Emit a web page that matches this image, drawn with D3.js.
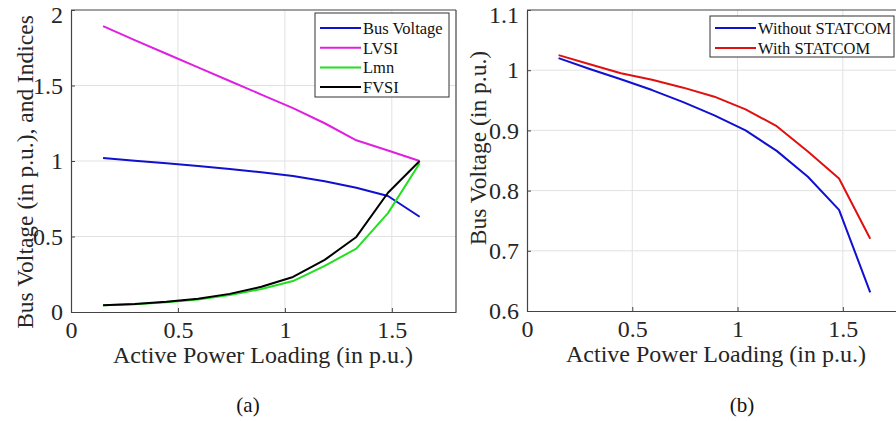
<!DOCTYPE html>
<html><head><meta charset="utf-8">
<script src="https://cdn.jsdelivr.net/npm/d3@7"></script>
<style>
body{margin:0;background:#fff;}
svg{display:block;font-family:"Liberation Serif","Times New Roman",serif;}
</style></head>
<body><svg id="c" width="896" height="421"></svg>
<script>
// ---- data ----
const loading = [0.15, 0.298, 0.446, 0.594, 0.742, 0.89, 1.038, 1.186, 1.334, 1.482, 1.63];
const busVoltage = [1.020, 1.002, 0.985, 0.967, 0.947, 0.925, 0.900, 0.866, 0.823, 0.768, 0.631];
const lvsi = [1.893, 1.80, 1.71, 1.62, 1.53, 1.44, 1.35, 1.25, 1.137, 1.07, 1.0];
const lmn  = [0.045, 0.052, 0.064, 0.083, 0.112, 0.152, 0.205, 0.305, 0.42, 0.655, 0.985];
const fvsi = [0.045, 0.053, 0.068, 0.088, 0.12, 0.167, 0.232, 0.345, 0.497, 0.79, 1.0];
const withoutStatcom = busVoltage;
const withStatcom = [1.025, 1.010, 0.995, 0.984, 0.971, 0.956, 0.935, 0.907, 0.865, 0.820, 0.720];
const xTicks = [0, 0.5, 1, 1.5];
const yTicksA = [0, 0.5, 1, 1.5, 2];
const yTicksB = [0.6, 0.7, 0.8, 0.9, 1, 1.1];
const seriesA = [
  {name:"Bus Voltage", values:busVoltage, color:"#1010d0"},
  {name:"LVSI", values:lvsi, color:"#e020e0"},
  {name:"Lmn", values:lmn, color:"#20e020"},
  {name:"FVSI", values:fvsi, color:"#000000"}
];
const seriesB = [
  {name:"Without STATCOM", values:withoutStatcom, color:"#1010d0"},
  {name:"With STATCOM", values:withStatcom, color:"#e01010"}
];

const svg = d3.select("#c");
const fmt = d => (d === 0 ? "0" : String(d));

function panel(o){
  const g = svg.append("g");
  const x = d3.scaleLinear().domain([0,1.8]).range([o.left, o.right]);
  const y = d3.scaleLinear().domain(o.ydom).range([o.bottom, o.top]);
  // grid
  g.selectAll(".gx").data(xTicks.filter(d=>d>0)).join("line")
    .attr("x1",d=>x(d)).attr("x2",d=>x(d)).attr("y1",o.top).attr("y2",o.bottom)
    .attr("stroke","#e2e2e2").attr("stroke-width",1);
  g.selectAll(".gy").data(o.yticks.slice(1,-1)).join("line")
    .attr("y1",d=>y(d)).attr("y2",d=>y(d)).attr("x1",o.left).attr("x2",o.right)
    .attr("stroke","#e2e2e2").attr("stroke-width",1);
  // lines
  const line = d3.line().x((d,i)=>x(loading[i])).y(d=>y(d));
  o.series.forEach(s=>{
    g.append("path").datum(s.values).attr("d",line).attr("fill","none")
      .attr("stroke",s.color).attr("stroke-width",2).attr("stroke-linejoin","round");
  });
  // axes
  const ax = g.append("g").attr("transform",`translate(0,${o.bottom})`)
    .call(d3.axisBottom(x).tickValues(xTicks).tickFormat(fmt).tickSizeInner(-4).tickSizeOuter(0).tickPadding(9));
  const ay = g.append("g").attr("transform",`translate(${o.left},0)`)
    .call(d3.axisLeft(y).tickValues(o.yticks).tickFormat(fmt).tickSizeInner(-4).tickSizeOuter(0).tickPadding(8));
  [ax,ay].forEach(a=>{
    a.select(".domain").attr("stroke","#444").attr("stroke-width",1.2);
    a.selectAll(".tick line").attr("stroke","#444");
    a.selectAll(".tick text").attr("font-family","Liberation Serif").attr("font-size",24).attr("fill","#262626");
  });
  const topTick = o.ydom[1];
  ay.selectAll(".tick text").filter(d=>d===topTick).attr("dy","0.52em");
  // box top/right
  g.append("line").attr("x1",o.left).attr("x2",o.right).attr("y1",o.top).attr("y2",o.top).attr("stroke","#444").attr("stroke-width",1.2);
  g.append("line").attr("x1",o.right).attr("x2",o.right).attr("y1",o.top).attr("y2",o.bottom).attr("stroke","#444").attr("stroke-width",1.2);
  // titles
  g.append("text").attr("x",o.xtX).attr("y",o.bottom+51).attr("text-anchor","middle")
    .attr("font-size",24).attr("fill","#262626").text("Active Power Loading (in p.u.)");
  g.append("text").attr("transform",`translate(${o.ytX},${o.ytY}) rotate(-90)`).attr("text-anchor","middle")
    .attr("font-size",23.5).attr("fill","#262626").text(o.ytitle);
  g.append("text").attr("x",o.capX).attr("y",412).attr("text-anchor","middle").attr("font-size",21).attr("fill","#111").text(o.caption);
  // legend
  const L = o.legend;
  g.append("rect").attr("x",L.x).attr("y",L.y).attr("width",L.w).attr("height",L.h)
    .attr("fill","#fff").attr("stroke","#333").attr("stroke-width",1);
  o.series.forEach((s,i)=>{
    const yy = L.y + L.first + i*L.step;
    g.append("line").attr("x1",L.x+5).attr("x2",L.x+46).attr("y1",yy).attr("y2",yy)
      .attr("stroke",s.color).attr("stroke-width",2);
    g.append("text").attr("x",L.x+48).attr("y",yy+6).attr("font-size",L.fs).attr("fill","#111").text(s.name);
  });
}

panel({left:71,right:456,top:10,bottom:312,ydom:[0,2],yticks:yTicksA,series:seriesA,
  ytitle:"Bus Voltage (in p.u.), and Indices",ytX:33,ytY:172,xtX:263,capX:248,caption:"(a)",
  legend:{x:315,y:13,w:134,h:84,first:15,step:19.7,fs:16.5}});
panel({left:527,right:906,top:10,bottom:311,ydom:[0.6,1.1],yticks:yTicksB,series:seriesB,
  ytitle:"Bus Voltage (in p.u.)",ytX:486,ytY:148,xtX:716,capX:742,caption:"(b)",
  legend:{x:710,y:16,w:184,h:41,first:12,step:20,fs:16.5}});
</script></body></html>
